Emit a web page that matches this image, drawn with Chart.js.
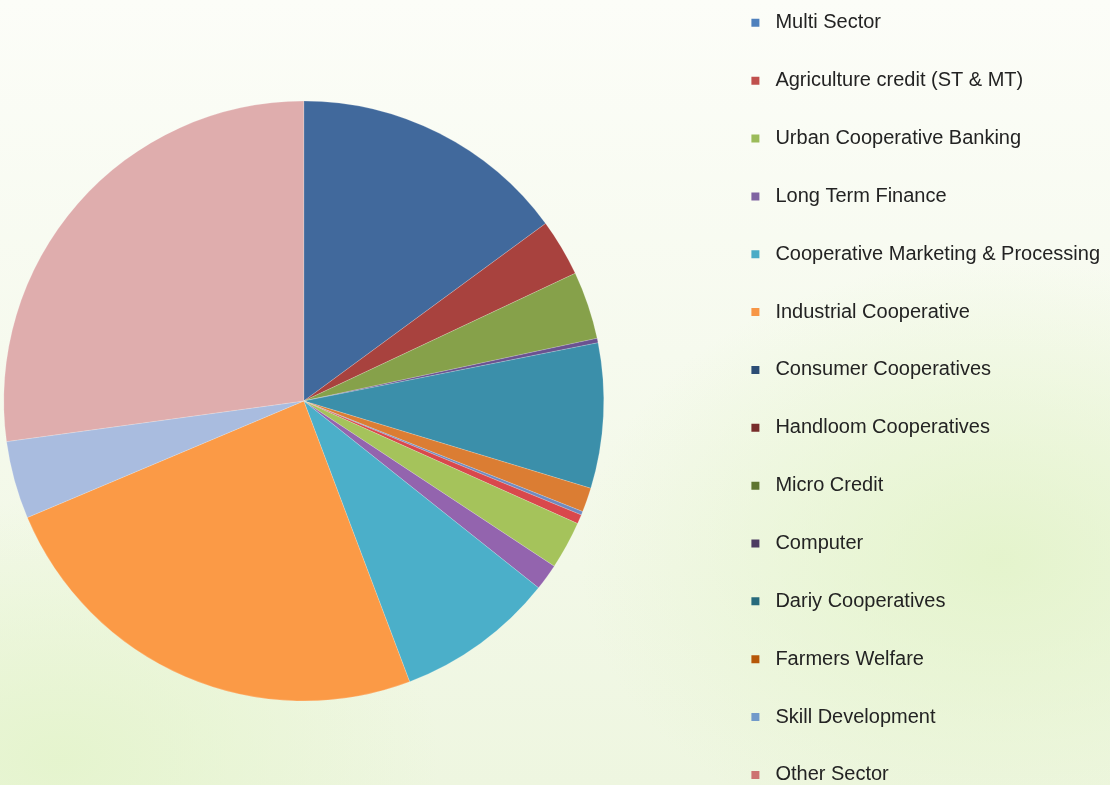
<!DOCTYPE html>
<html>
<head>
<meta charset="utf-8">
<title>Sector wise share</title>
<script src="https://cdn.jsdelivr.net/npm/chart.js@4/dist/chart.umd.min.js"></script>
<style>
  html, body {
    margin: 0;
    width: 1110px;
    height: 785px;
    overflow: hidden;
  }
  body {
    position: relative;
    background:
      radial-gradient(ellipse 420px 300px at 1000px 560px, rgba(226, 243, 200, 0.85), rgba(226, 243, 200, 0) 100%),
      radial-gradient(ellipse 380px 260px at 60px 760px, rgba(228, 244, 204, 0.9), rgba(228, 244, 204, 0) 100%),
      linear-gradient(180deg, #fcfdf8 0%, #f6faee 45%, #eef6e0 100%);
  }
  #chart {
    position: absolute;
    left: -100px;
    top: -25px;
  }
</style>
</head>
<body>
<canvas id="chart" width="1210" height="852"></canvas>
<script>
// sectors, in legend order (pie goes clockwise from 12 o'clock)
const sectors = [
  "Multi Sector",
  "Agriculture credit (ST & MT)",
  "Urban Cooperative Banking",
  "Long Term Finance",
  "Cooperative Marketing & Processing",
  "Industrial Cooperative",
  "Consumer Cooperatives",
  "Handloom Cooperatives",
  "Micro Credit",
  "Computer",
  "Dariy Cooperatives",
  "Farmers Welfare",
  "Skill Development",
  "Other Sector"
];

// share in percent
const shares = [14.92, 3.08, 3.65, 0.24, 7.81, 1.31, 0.19, 0.50, 2.58, 1.42, 8.56, 24.39, 4.19, 27.16];

// colours of the slices as they appear in the pie
const sliceColors = [
  "#41699c", "#a8423e", "#86a14a", "#6a5290", "#3b8faa", "#db7d33", "#6f8ac0",
  "#d9484c", "#a5c35b", "#9364ae", "#4bafc9", "#fb9a46", "#a9bcdf", "#dfadad"
];

// colours of the little squares in the legend
const legendColors = [
  "#4f81bd", "#c0504d", "#9bbb59", "#8064a2", "#4bacc6", "#f79646", "#2c4d75",
  "#772c2a", "#5f7530", "#4d3b62", "#276a7c", "#b65708", "#729aca", "#cd7371"
];

const ctx = document.getElementById("chart").getContext("2d");

new Chart(ctx, {
  type: "pie",
  data: {
    labels: sectors,
    datasets: [{
      data: shares,
      backgroundColor: sliceColors,
      borderColor: "rgba(255, 255, 255, 0.3)",
      borderWidth: 0.6,
      radius: 300
    }]
  },
  options: {
    responsive: false,
    animation: false,
    events: [],
    layout: { padding: 0 },
    plugins: {
      tooltip: { enabled: false },
      legend: {
        position: "right",
        align: "start",
        labels: {
          color: "#232323",
          font: { family: "'Liberation Sans', Arial, sans-serif", size: 20 },
          padding: 37.85,
          boxWidth: 20,
          boxHeight: 8,
          usePointStyle: true,
          pointStyle: "rect",
          generateLabels: function (chart) {
            const items = Chart.overrides.pie.plugins.legend.labels.generateLabels(chart);
            items.forEach(function (item, i) {
              item.fillStyle = legendColors[i];
              item.strokeStyle = legendColors[i];
              item.lineWidth = 0;
              item.pointStyle = "rect";
            });
            return items;
          }
        }
      }
    }
  }
});
</script>
</body>
</html>
